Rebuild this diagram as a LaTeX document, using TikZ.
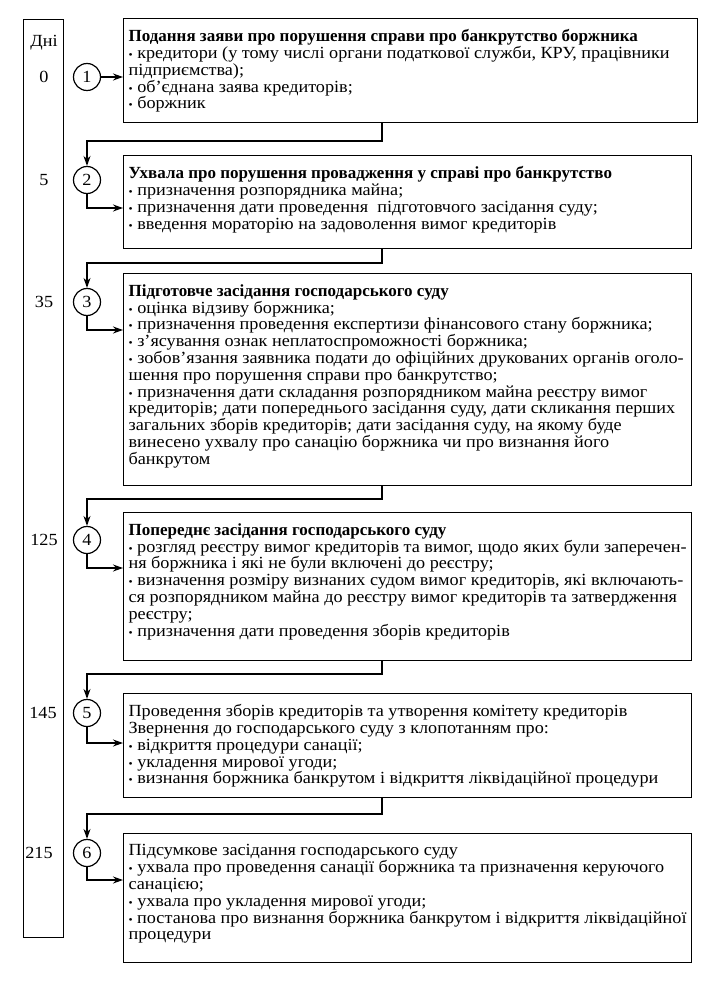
\documentclass[tikz,border=0pt]{standalone}
\usepackage{fontspec}
\setmainfont[FakeStretch=1.07, BoldFeatures={FakeStretch=1.0}]{Liberation Serif}
\usetikzlibrary{arrows.meta}
\newcommand{\bul}{{\fontsize{11}{11}\selectfont•}\ }
\newcommand{\stagetext}[3]{\parbox[t][#1][t]{#2}{\raggedright #3}}

\begin{document}
\begin{tikzpicture}[x=1pt, y=-1pt,
    font=\fontsize{17}{16.8}\selectfont,
    stage/.style={draw, line width=1.2pt, anchor=north west, inner xsep=5pt, inner ysep=11pt},
    num/.style={draw, circle, line width=1.2pt, minimum size=27pt, inner sep=0pt},
    day/.style={inner sep=0pt},
    link/.style={line width=1.5pt, -{Stealth[length=10pt, width=7pt]}}]
    \useasboundingbox (0,0) rectangle (704,981);
    \node[draw, line width=1.2pt, anchor=north west, minimum width=40pt, minimum height=918pt] (days) at (23,19) {};
    \node[day] (dni) at (44,43) {Дні};
    \foreach \n/\d/\y/\x in {1/0/77/44, 2/5/180/44, 3/35/302/44, 4/125/540/44, 5/145/713/43, 6/215/853/39} {
        \node[num] (n\n) at (87,\y) {\n};
        \node[day] (d\n) at (\x,\y) {\d};
    }
    \node[stage] (b1) at (123,18) {\stagetext{82pt}{564pt}{%
        \textbf{Подання заяви про порушення справи про банкрутство боржника}\\
        \bul кредитори (у тому числі органи податкової служби, КРУ, працівники\\
        підприємства);\\
        \bul об’єднана заява кредиторів;\\
        \bul боржник}};
    \node[stage] (b2) at (123,155) {\stagetext{71pt}{558pt}{%
        \textbf{Ухвала про порушення провадження у справі про банкрутство}\\
        \bul призначення розпорядника майна;\\
        \bul призначення дати проведення \ підготовчого засідання суду;\\
        \bul введення мораторію на задоволення вимог кредиторів}};
    \node[stage] (b3) at (123,273) {\stagetext{190pt}{558pt}{%
        \textbf{Підготовче засідання господарського суду}\\
        \bul оцінка відзиву боржника;\\
        \bul призначення проведення експертизи фінансового стану боржника;\\
        \bul з’ясування ознак неплатоспроможності боржника;\\
        \bul зобов’язання заявника подати до офіційних друкованих органів оголо-\\
        шення про порушення справи про банкрутство;\\
        \bul призначення дати складання розпорядником майна реєстру вимог\\
        кредиторів; дати попереднього засідання суду, дати скликання перших\\
        загальних зборів кредиторів; дати засідання суду, на якому буде\\
        винесено ухвалу про санацію боржника чи про визнання його\\
        банкрутом}};
    \node[stage] (b4) at (123,512) {\stagetext{126pt}{558pt}{%
        \textbf{Попереднє засідання господарського суду}\\
        \bul розгляд реєстру вимог кредиторів та вимог, щодо яких були заперечен-\\
        ня боржника і які не були включені до реєстру;\\
        \bul визначення розміру визнаних судом вимог кредиторів, які включають-\\
        ся розпорядником майна до реєстру вимог кредиторів та затвердження\\
        реєстру;\\
        \bul призначення дати проведення зборів кредиторів}};
    \node[stage] (b5) at (123,693) {\stagetext{82pt}{558pt}{%
        Проведення зборів кредиторів та утворення комітету кредиторів\\
        Звернення до господарського суду з клопотанням про:\\
        \bul відкриття процедури санації;\\
        \bul укладення мирової угоди;\\
        \bul визнання боржника банкрутом і відкриття ліквідаційної процедури}};
    \node[stage] (b6) at (123,833) {\stagetext{107pt}{558pt}{%
        Підсумкове засідання господарського суду\\
        \bul ухвала про проведення санації боржника та призначення керуючого\\
        санацією;\\
        \bul ухвала про укладення мирової угоди;\\
        \bul постанова про визнання боржника банкрутом і відкриття ліквідаційної\\
        процедури}};
    \draw[link] (n1.east) -- (n1 -| b1.west);
    \foreach \i/\s in {2/53, 3/57, 4/56, 5/50, 6/47}
        \draw[link] (n\i.south) |- ([yshift=-\s pt]b\i.north west);
    \foreach \i/\j/\s in {1/2/18, 2/3/14, 3/4/13, 4/5/13, 5/6/16}
        \draw[link] ([xshift=259pt]b\i.south west) -- ++(0,\s) -| (n\j.north);
\end{tikzpicture}
\end{document}
